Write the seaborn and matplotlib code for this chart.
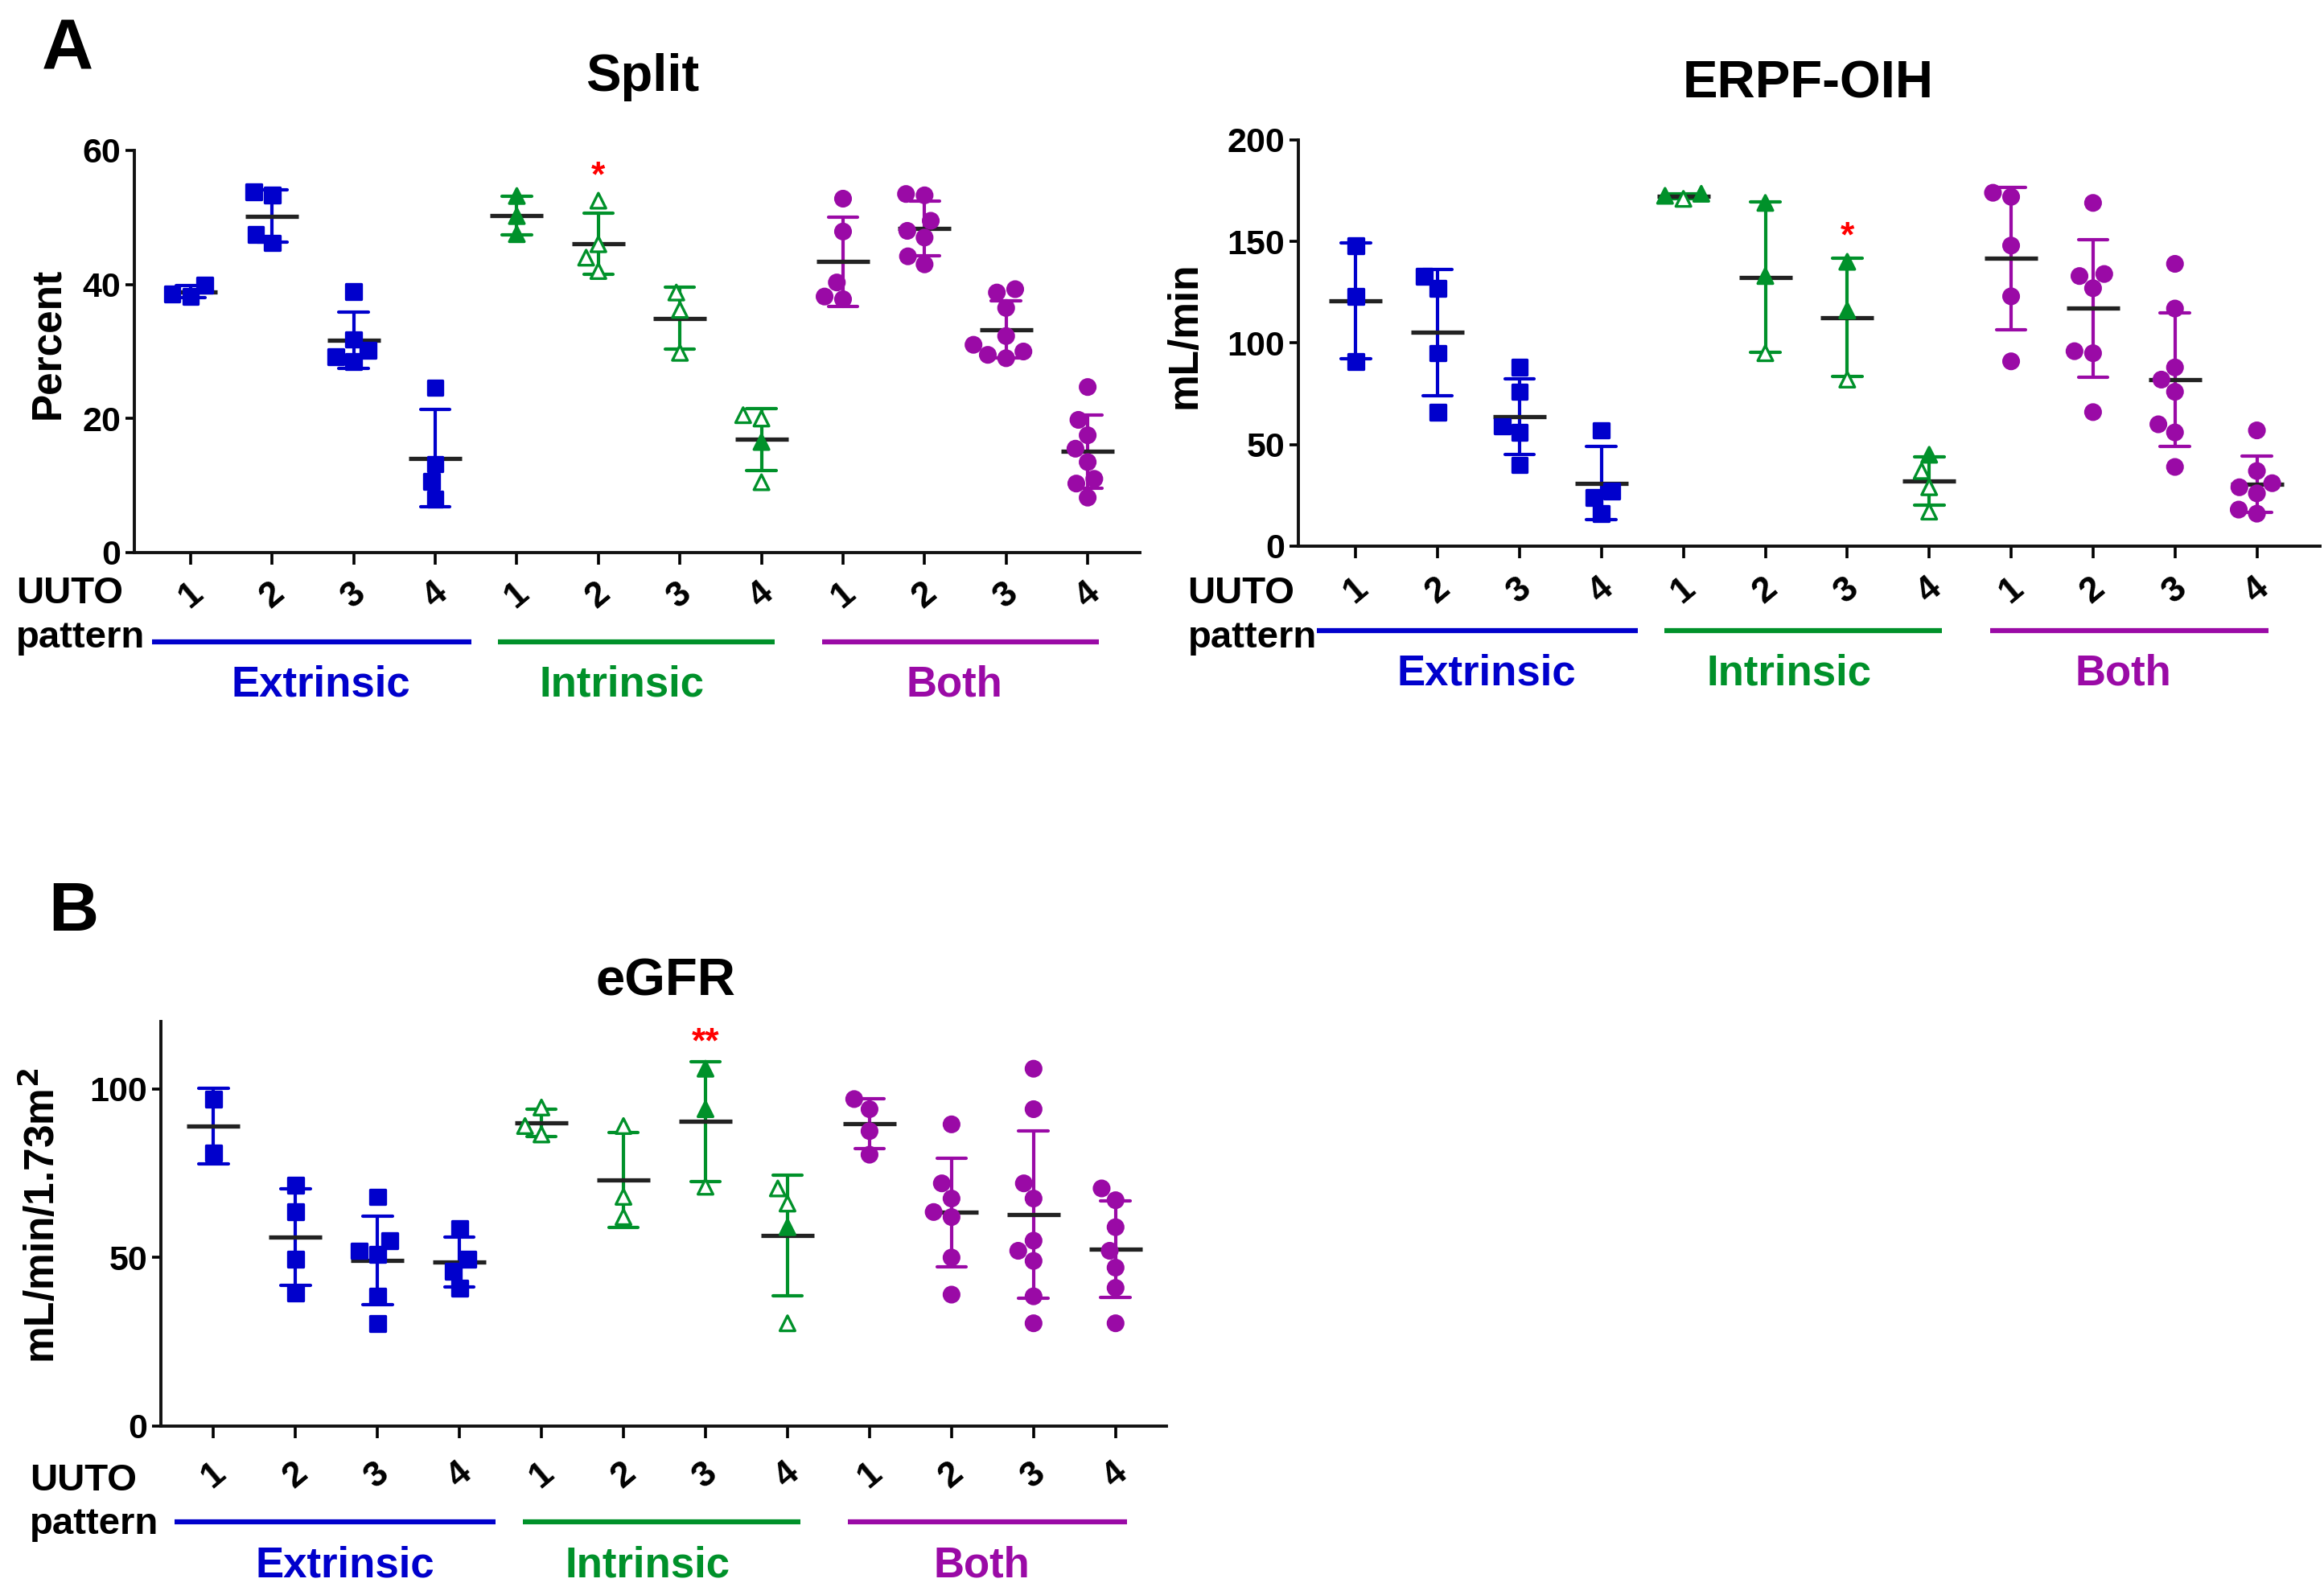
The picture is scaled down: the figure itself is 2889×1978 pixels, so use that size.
import numpy as np
import pandas as pd
import matplotlib
matplotlib.use('Agg')
import matplotlib.pyplot as plt
import seaborn as sns

# Values (one list per UUTO pattern 1..4)
split_ext = [[39.9, 38.2, 38.6], [53.8, 53.3, 47.5, 46.2],
             [38.9, 31.8, 30.2, 29.2, 28.5], [24.6, 13.2, 10.6, 8.0]]
split_int = [[53.2, 50.2, 47.5], [52.5, 46.0, 44.0, 42.0],
             [38.8, 36.2, 29.8], [20.5, 20.0, 16.5, 10.5]]
split_both = [[52.8, 47.9, 40.3, 38.2, 37.8],
              [53.5, 53.3, 49.5, 48.0, 47.0, 44.2, 43.0],
              [39.3, 38.8, 36.5, 32.3, 31.0, 30.0, 29.5, 29.0],
              [24.7, 19.8, 17.5, 15.5, 13.5, 11.0, 10.3, 8.2]]

erpf_ext = [[148, 123, 91], [133, 127, 95, 66],
            [88, 76, 59, 56, 40], [57, 27, 24, 16]]
erpf_int = [[171, 172.5, 173.5], [169, 133, 95], [140, 116, 82], [45, 37, 29, 17]]
erpf_both = [[174, 172, 148, 123, 91], [169, 134, 133, 127, 96, 95, 66],
             [139, 117, 88, 82, 76, 60, 56, 39], [57, 37, 31, 29, 26, 18, 16]]

egfr_ext = [[97, 81], [71.5, 63.5, 49.5, 39.5],
            [68, 55, 52, 51, 38.5, 30.5], [58.5, 49.5, 46, 41]]
egfr_int = [[94.5, 89, 86.5], [89, 68, 62], [106, 94, 71], [70.5, 66, 59, 30.5]]
egfr_both = [[97, 94, 87.5, 80.5], [89.5, 72, 67.5, 63.5, 62, 50, 39],
             [106, 94, 72, 67.5, 55, 52, 49, 38.5, 30.5],
             [70.5, 67, 59, 52, 47, 41, 30.5]]

# filled (1) or open (0) triangles in the intrinsic groups
split_int_filled = [[1, 1, 1], [0, 0, 0, 0], [0, 0, 0], [0, 0, 1, 0]]
erpf_int_filled = [[0, 1, 1], [1, 1, 0], [1, 1, 0], [1, 0, 0, 0]]
egfr_int_filled = [[0, 0, 0], [0, 0, 0], [1, 1, 0], [0, 0, 1, 0]]

groups = ['Extrinsic', 'Intrinsic', 'Both']
patterns = ['1', '2', '3', '4']
cats = [g + ' ' + p for g in groups for p in patterns]

# significance marks: (category index, y position, text)
split_sig = [(5, 56.0, '*')]
erpf_sig = [(6, 152.0, '*')]
egfr_sig = [(6, 113.5, '**')]

colors = {'Extrinsic': '#0000cc', 'Intrinsic': '#00912a', 'Both': '#9a0aa6'}
markers = {'Extrinsic': 's', 'Intrinsic': '^', 'Both': 'o'}


def make_frame(ext, intr, both, int_filled):
    rows = []
    for g, vals in zip(groups, [ext, intr, both]):
        for p, lst in zip(patterns, vals):
            for i, v in enumerate(lst):
                filled = int_filled[int(p) - 1][i] if g == 'Intrinsic' else 1
                rows.append({'group': g, 'cat': g + ' ' + p, 'value': v, 'filled': filled})
    return pd.DataFrame(rows)


sns.set_style('ticks')
plt.rcParams['font.family'] = ['Liberation Sans', 'DejaVu Sans']
plt.rcParams['font.weight'] = 'bold'
plt.rcParams['axes.labelweight'] = 'bold'
plt.rcParams['text.color'] = 'black'
plt.rcParams['axes.labelcolor'] = 'black'
plt.rcParams['xtick.color'] = 'black'
plt.rcParams['ytick.color'] = 'black'

W, H = 2889, 1978
fig = plt.figure(figsize=(W / 100, H / 100), dpi=100)


def px_axes(x0, x1, y_top, y_bot):
    return fig.add_axes([x0 / W, 1 - y_bot / H, (x1 - x0) / W, (y_bot - y_top) / H])


def draw_panel(ax, df, ylim, yticks, ylabel, xlim, sig, lab):
    for g in groups:
        c = colors[g]
        for p in patterns:
            sub = df[df['cat'] == g + ' ' + p]
            n0 = len(ax.collections)
            sns.swarmplot(data=sub, x='cat', y='value', order=cats, color=c,
                          marker=markers[g], size=13.5, linewidth=2.4, edgecolor=c,
                          warn_thresh=1.0, ax=ax)
            for coll in ax.collections[n0:]:
                if len(coll.get_offsets()) == len(sub):
                    fc = [c if f else 'white' for f in sub['filled']]
                    coll.set_facecolors(fc)
                    coll.set_edgecolors(c)
        sub_g = df[df['group'] == g]
        sns.pointplot(data=sub_g, x='cat', y='value', order=cats, errorbar='sd',
                      capsize=0.36, color=c, linestyle='none', markersize=0,
                      err_kws={'linewidth': 3.0}, ax=ax)
    sns.pointplot(data=df, x='cat', y='value', order=cats, errorbar=None,
                  color='#222222', linestyle='none', marker='_', markersize=48,
                  markeredgewidth=3.8, ax=ax)

    ax.set_xlim(*xlim)
    ax.set_ylim(*ylim)
    ax.set_yticks(yticks)
    ax.set_yticklabels([str(t) for t in yticks])
    ax.set_xticks(range(len(cats)))
    ax.set_xticklabels(patterns * 3, rotation=40, fontsize=32, fontweight='bold')
    ax.set_xlabel('')
    ax.set_ylabel(ylabel, fontsize=37, fontweight='bold')
    ax.yaxis.set_label_coords(lab['ylab_x'], 0.52)
    sns.despine(ax=ax)
    for s in ['left', 'bottom']:
        ax.spines[s].set_linewidth(2.8)
        ax.spines[s].set_color('#111111')
    ax.tick_params(axis='y', labelsize=31, length=8, width=2.6, pad=4)
    ax.tick_params(axis='x', length=11, width=2.6, pad=lab['xpad'])

    tr = ax.get_xaxis_transform()
    ax.text(lab['uuto_x'], lab['uuto_y'], 'UUTO', transform=tr, fontsize=34,
            fontweight='bold', ha='left', va='baseline', clip_on=False)
    ax.text(lab['uuto_x'], lab['patt_y'], 'pattern', transform=tr, fontsize=34,
            fontweight='bold', ha='left', va='baseline', clip_on=False)
    spans = {'Extrinsic': (-0.47, 3.44), 'Intrinsic': (3.77, 7.16), 'Both': (7.74, 11.14)}
    centers = {'Extrinsic': 1.6, 'Intrinsic': 5.29, 'Both': 9.37}
    for g in groups:
        ax.plot(spans[g], [lab['line_y']] * 2, color=colors[g], lw=4.5,
                transform=tr, clip_on=False, solid_capstyle='butt')
        ax.text(centers[g], lab['grp_y'], g, color=colors[g], transform=tr,
                fontsize=38, fontweight='bold', ha='center', va='baseline',
                clip_on=False)
    for i, y, t in sig:
        ax.text(i, y, t, color='red', fontsize=32, ha='center', va='center')


split_df = make_frame(split_ext, split_int, split_both, split_int_filled)
erpf_df = make_frame(erpf_ext, erpf_int, erpf_both, erpf_int_filled)
egfr_df = make_frame(egfr_ext, egfr_int, egfr_both, egfr_int_filled)

ax1 = px_axes(167, 1417, 187, 687)
draw_panel(ax1, split_df, (0, 60), [0, 20, 40, 60], 'Percent', (-0.69, 11.64), split_sig,
           dict(ylab_x=-0.066, xpad=10, uuto_x=-2.14, uuto_y=-0.126, patt_y=-0.236,
                line_y=-0.222, grp_y=-0.358))

ax2 = px_axes(1614, 2884, 174, 679)
draw_panel(ax2, erpf_df, (0, 200), [0, 50, 100, 150, 200], 'mL/min', (-0.70, 11.77), erpf_sig,
           dict(ylab_x=-0.092, xpad=12, uuto_x=-2.05, uuto_y=-0.141, patt_y=-0.25,
                line_y=-0.208, grp_y=-0.341))

ax3 = px_axes(200, 1450, 1270, 1773)
draw_panel(ax3, egfr_df, (0, 120), [0, 50, 100], 'mL/min/1.73m$^\\mathbf{2}$', (-0.64, 11.62), egfr_sig,
           dict(ylab_x=-0.097, xpad=16, uuto_x=-2.24, uuto_y=-0.159, patt_y=-0.266,
                line_y=-0.237, grp_y=-0.372))

# titles and panel letters
fig.text(799 / W, 1 - 113 / H, 'Split', fontsize=47, fontweight='bold', ha='center', va='baseline')
fig.text(2248 / W, 1 - 121 / H, 'ERPF-OIH', fontsize=47, fontweight='bold', ha='center', va='baseline')
fig.text(827 / W, 1 - 1237 / H, 'eGFR', fontsize=47, fontweight='bold', ha='center', va='baseline')
fig.text(52 / W, 1 - 87 / H, 'A', fontsize=64, fontweight='bold', ha='left', va='baseline')
fig.text(60 / W, 1 - 1157 / H, 'B', fontsize=62, fontweight='bold', ha='left', va='baseline')

fig.savefig('out.png', dpi=100)
